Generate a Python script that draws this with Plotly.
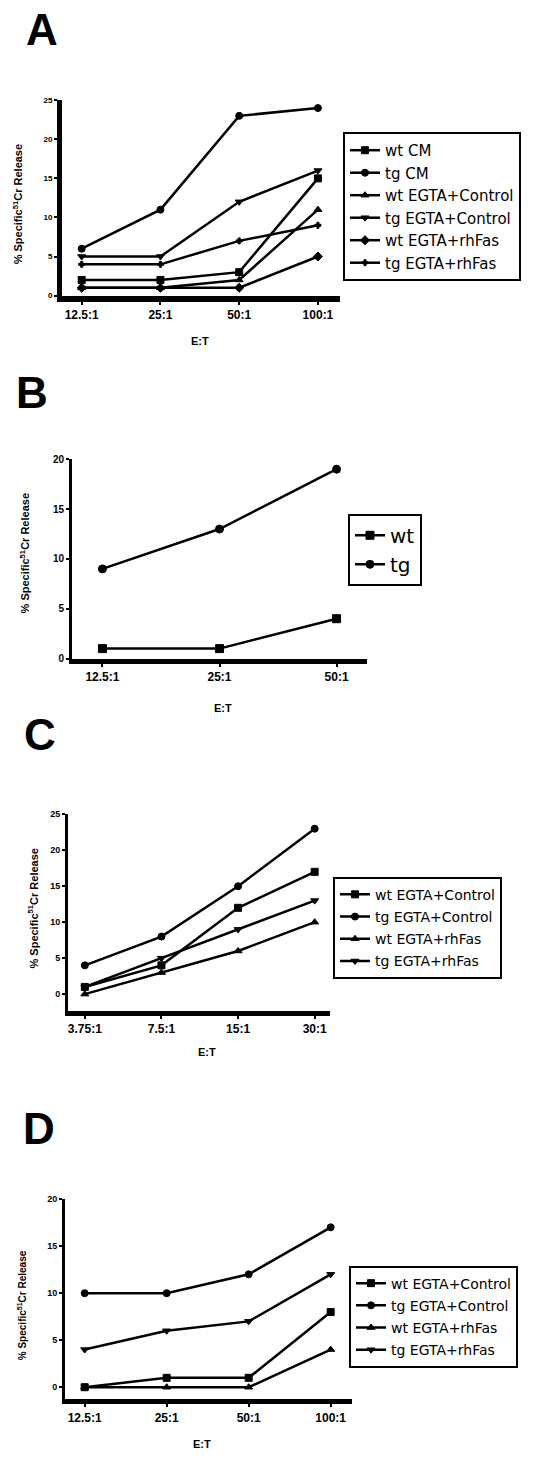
import plotly.graph_objects as go

W, H = 539, 1458

# ---------------- data ----------------
cats_A = ["12.5:1", "25:1", "50:1", "100:1"]
A_wt_CM = [2, 2, 3, 15]
A_tg_CM = [6, 11, 23, 24]
A_wt_EGTA_Control = [1, 1, 2, 11]
A_tg_EGTA_Control = [5, 5, 12, 16]
A_wt_EGTA_rhFas = [1, 1, 1, 5]
A_tg_EGTA_rhFas = [4, 4, 7, 9]

cats_B = ["12.5:1", "25:1", "50:1"]
B_wt = [1, 1, 4]
B_tg = [9, 13, 19]

cats_C = ["3.75:1", "7.5:1", "15:1", "30:1"]
C_wt_EGTA_Control = [1, 4, 12, 17]
C_tg_EGTA_Control = [4, 8, 15, 23]
C_wt_EGTA_rhFas = [0, 3, 6, 10]
C_tg_EGTA_rhFas = [1, 5, 9, 13]

cats_D = ["12.5:1", "25:1", "50:1", "100:1"]
D_wt_EGTA_Control = [0, 1, 1, 8]
D_tg_EGTA_Control = [10, 10, 12, 17]
D_wt_EGTA_rhFas = [0, 0, 0, 4]
D_tg_EGTA_rhFas = [4, 6, 7, 12]

yticks_25 = [0, 5, 10, 15, 20, 25]
yticks_20 = [0, 5, 10, 15, 20]

FONT = "DejaVu Sans"
BOLD = "Liberation Sans"


def px(x):
    return x / W


def py(y):
    return 1 - y / H


fig = go.Figure()


def add(xcats, ys, name, symbol, ax, leg, msize=7):
    fig.add_trace(go.Scatter(
        x=xcats, y=ys, name=name, mode="lines+markers",
        line=dict(color="black", width=2.5),
        marker=dict(symbol=symbol, size=msize, color="black",
                    line=dict(color="black", width=1)),
        xaxis="x" + ax, yaxis="y" + ax, legend=leg, legendgroup=leg + name,
        cliponaxis=False))


add(cats_A, A_wt_CM, "wt CM", "square", "", "legend")
add(cats_A, A_tg_CM, "tg CM", "circle", "", "legend")
add(cats_A, A_wt_EGTA_Control, "wt EGTA+Control", "triangle-up", "", "legend")
add(cats_A, A_tg_EGTA_Control, "tg EGTA+Control", "triangle-down", "", "legend")
add(cats_A, A_wt_EGTA_rhFas, "wt EGTA+rhFas", "diamond", "", "legend")
add(cats_A, A_tg_EGTA_rhFas, "tg EGTA+rhFas", "cross", "", "legend", msize=5)

add(cats_B, B_wt, "wt", "square", "2", "legend2", msize=8)
add(cats_B, B_tg, "tg", "circle", "2", "legend2", msize=8)

add(cats_C, C_wt_EGTA_Control, "wt EGTA+Control", "square", "3", "legend3")
add(cats_C, C_tg_EGTA_Control, "tg EGTA+Control", "circle", "3", "legend3")
add(cats_C, C_wt_EGTA_rhFas, "wt EGTA+rhFas", "triangle-up", "3", "legend3")
add(cats_C, C_tg_EGTA_rhFas, "tg EGTA+rhFas", "triangle-down", "3", "legend3")

add(cats_D, D_wt_EGTA_Control, "wt EGTA+Control", "square", "4", "legend4")
add(cats_D, D_tg_EGTA_Control, "tg EGTA+Control", "circle", "4", "legend4")
add(cats_D, D_wt_EGTA_rhFas, "wt EGTA+rhFas", "triangle-up", "4", "legend4")
add(cats_D, D_tg_EGTA_rhFas, "tg EGTA+rhFas", "triangle-down", "4", "legend4")

panels = {
    "": dict(cats=cats_A, xd=(62, 340), yd=(95, 292), xr=[-0.25, 3.28], yr=[0, 25],
             yt=yticks_25, yfs=8, xlw=6, ylw=5, xfs=12),
    "2": dict(cats=cats_B, xd=(72, 367), yd=(457, 658), xr=[-0.26, 2.26], yr=[0, 20],
              yt=yticks_20, yfs=10, xlw=5, ylw=3, xfs=12),
    "3": dict(cats=cats_C, xd=(68, 330), yd=(815, 1013), xr=[-0.22, 3.2], yr=[-2.3, 25],
              yt=yticks_25, yfs=9, xlw=5, ylw=3, xfs=12),
    "4": dict(cats=cats_D, xd=(65, 352), yd=(1203, 1405), xr=[-0.24, 3.26], yr=[-1.3, 20],
              yt=yticks_20, yfs=9, xlw=5, ylw=3, xfs=12),
}

layout = dict(
    width=W, height=H, margin=dict(l=0, r=0, t=0, b=0),
    paper_bgcolor="white", plot_bgcolor="white", showlegend=True,
    font=dict(family=FONT, color="black"),
)

for k, p in panels.items():
    layout["xaxis" + k] = dict(
        domain=[px(p["xd"][0]), px(p["xd"][1])], anchor="y" + k,
        type="category", range=p["xr"], showline=True, linecolor="black",
        tickvals=p["cats"], ticktext=["<b>%s</b>" % c for c in p["cats"]],
        linewidth=p["xlw"], ticks="outside", ticklen=3, tickwidth=1.5,
        tickcolor="black", showgrid=False, zeroline=False,
        tickfont=dict(family=BOLD, size=p["xfs"], color="black"),
        fixedrange=True)
    layout["yaxis" + k] = dict(
        domain=[py(p["yd"][1]), py(p["yd"][0])], anchor="x" + k,
        range=p["yr"], tickvals=p["yt"], ticktext=["<b>%d</b>" % v for v in p["yt"]],
        showline=True, linecolor="black",
        linewidth=p["ylw"], ticks="outside", ticklen=3, tickwidth=1.5,
        tickcolor="black", showgrid=False, zeroline=False,
        tickfont=dict(family=BOLD, size=p["yfs"], color="black"),
        fixedrange=True)

legends = {
    "legend": dict(x=343, y=127, fs=15, gap=0),
    "legend2": dict(x=348, y=512, fs=20, gap=0),
    "legend3": dict(x=333, y=878, fs=14, gap=1),
    "legend4": dict(x=349, y=1270, fs=14, gap=1),
}
for k, l in legends.items():
    layout[k] = dict(
        x=px(l["x"]), y=py(l["y"]), xanchor="left", yanchor="top",
        bordercolor="black", borderwidth=2, bgcolor="white",
        font=dict(family=FONT, size=l["fs"], color="black"),
        tracegroupgap=l["gap"], itemsizing="trace")

fig.update_layout(**layout)

ann = []
for letter, (x, y) in {"A": (42, 24), "B": (32, 390), "C": (40, 735), "D": (39, 1132)}.items():
    ann.append(dict(text="<b>" + letter + "</b>", x=px(x), y=py(y), xref="paper",
                    yref="paper", showarrow=False, xanchor="center", yanchor="middle",
                    font=dict(family=BOLD, size=44, color="black")))
ytitle = "<b>% Specific<sup>51</sup>Cr Release</b>"
for (x, y, fs) in [(18, 200, 11), (25, 552, 11), (33, 910, 11), (22, 1310, 10)]:
    ann.append(dict(text=ytitle, x=px(x), y=py(y), xref="paper", yref="paper",
                    showarrow=False, textangle=-90, xanchor="center", yanchor="middle",
                    font=dict(family=BOLD, size=fs, color="black")))
for (x, y) in [(200, 338), (223, 708), (207, 1055), (202, 1450)]:
    ann.append(dict(text="<b>E:T</b>", x=px(x), y=py(y), xref="paper", yref="paper",
                    showarrow=False, xanchor="center", yanchor="middle",
                    font=dict(family=BOLD, size=11, color="black")))
fig.update_layout(annotations=ann)

fig.write_html("out.html", config={"displayModeBar": False},
               post_script="document.body.style.margin='0px';")
